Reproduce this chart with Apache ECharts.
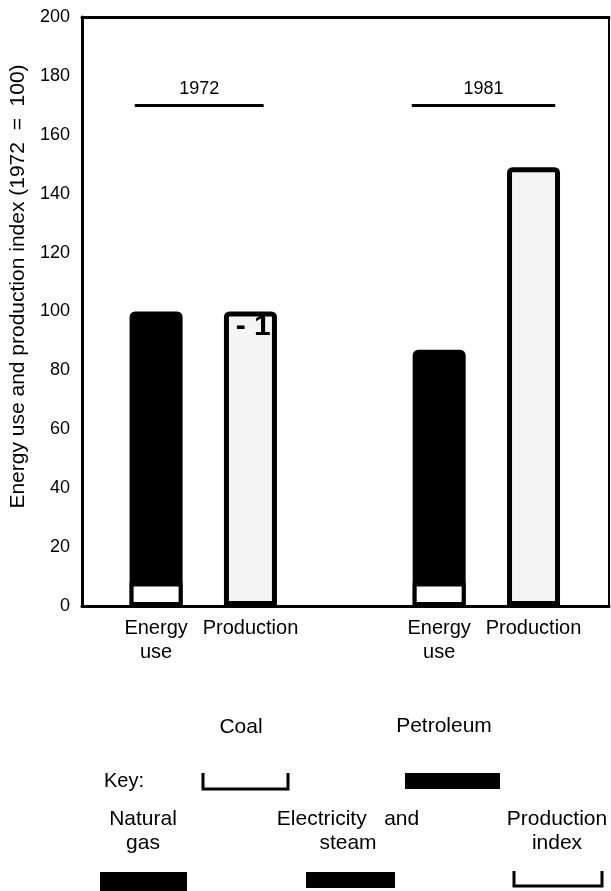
<!DOCTYPE html>
<html>
<head>
<meta charset="utf-8">
<script src="https://cdn.jsdelivr.net/npm/echarts@6/dist/echarts.min.js"></script>
<style>
html, body { margin: 0; padding: 0; background: #fff; }
#chart { width: 611px; height: 891px; }
</style>
</head>
<body>
<div id="chart"></div>
<script>
// bars along the bottom, and the slot each one sits in (slot 2 is the gap between the years)
const barLabels = ['Energy\nuse', 'Production', 'Energy\nuse', 'Production'];
const barSlots = [0, 1, 3, 4];
const years = ['1972', '1981'];
// index values, 1972 = 100
const coal = [8, null, 8, null];
const otherFuels = [92, null, 79, null]; // petroleum, natural gas, electricity and steam (all black)
const production = [null, 100, null, 149];
const yMax = 200;
const yStep = 20;

const font = 'Liberation Sans, Arial, sans-serif';
const toPoints = arr => arr.map((v, i) => [barSlots[i], v == null ? '-' : v]);
// black part is drawn full height and the coal part is laid over its foot
const energyTotal = coal.map((c, i) => (c == null ? null : c + otherFuels[i]));

const chart = echarts.init(document.getElementById('chart'));

// year brackets reach a bit past their two bars
const spanLeft = [0.226, 0.29];
const spanRight = [0.14, 0.23];

const option = {
  animation: false,
  textStyle: { fontFamily: font, color: '#000' },
  grid: { left: 80, right: 2, top: 17, bottom: 285 },
  xAxis: [{
    type: 'value',
    min: -0.786,
    max: 4.8,
    axisLine: { onZero: false, lineStyle: { color: '#000', width: 3 } },
    axisTick: { show: false },
    splitLine: { show: false },
    axisLabel: {
      customValues: barSlots,
      formatter: v => barLabels[barSlots.indexOf(v)],
      fontSize: 20, color: '#000', lineHeight: 24, margin: 10, fontFamily: font
    }
  }, {
    type: 'value',
    position: 'top',
    min: -0.786,
    max: 4.8,
    axisLine: { onZero: false, lineStyle: { color: '#000', width: 3 } },
    axisTick: { show: false },
    axisLabel: { show: false },
    splitLine: { show: false }
  }],
  yAxis: [{
    type: 'value',
    min: 0,
    max: yMax,
    interval: yStep,
    name: 'Energy use and production index (1972  =  100)',
    nameLocation: 'middle',
    nameGap: 48,
    nameTextStyle: { fontSize: 21, color: '#000', fontFamily: font, padding: [0, 0, 0, 50] },
    axisLine: { show: true, onZero: false, lineStyle: { color: '#000', width: 3 } },
    axisTick: { show: false },
    splitLine: { show: false },
    axisLabel: { fontSize: 18, color: '#000', margin: 12, fontFamily: font }
  }, {
    type: 'value',
    position: 'right',
    min: 0,
    max: yMax,
    axisLine: { show: true, onZero: false, lineStyle: { color: '#000', width: 2 } },
    axisTick: { show: false },
    axisLabel: { show: false },
    splitLine: { show: false }
  }],
  series: [{
    name: 'Petroleum, natural gas, electricity and steam',
    type: 'bar',
    barWidth: 53,
    barGap: '-100%',
    data: toPoints(energyTotal),
    itemStyle: { color: '#000', borderColor: '#000', borderWidth: 5, borderRadius: [3, 3, 0, 0] }
  }, {
    name: 'Coal',
    type: 'bar',
    barWidth: 53,
    barGap: '-100%',
    data: toPoints(coal),
    itemStyle: { color: '#fff', borderColor: '#000', borderWidth: 4 }
  }, {
    name: 'Production index',
    type: 'bar',
    barWidth: 53,
    barGap: '-100%',
    data: toPoints(production),
    itemStyle: { color: '#f4f4f4', borderColor: '#000', borderWidth: 5, borderRadius: [3, 3, 0, 0] },
    markLine: {
      silent: true,
      symbol: ['none', 'none'],
      lineStyle: { color: '#000', width: 3, type: 'solid' },
      label: { show: true, position: 'middle', formatter: '{b}', fontSize: 18, color: '#000', distance: 7, fontFamily: font },
      data: years.map((y, i) => [
        { name: y, coord: [barSlots[2 * i] - spanLeft[i], 170] },
        { coord: [barSlots[2 * i + 1] + spanRight[i], 170] }
      ])
    },
    markPoint: {
      silent: true,
      symbol: 'circle',
      symbolSize: 1,
      itemStyle: { color: 'transparent' },
      label: { show: true, position: 'inside', formatter: '- 1', fontSize: 30, fontWeight: 'bold', color: '#000', fontFamily: font },
      data: [{ coord: [1.03, 94.7] }]
    }
  }],
  // the key below the chart
  graphic: [
    { type: 'text', style: { x: 241, y: 727, text: 'Coal', align: 'center', verticalAlign: 'middle', font: '21px ' + font, fill: '#000' } },
    { type: 'text', style: { x: 444, y: 726, text: 'Petroleum', align: 'center', verticalAlign: 'middle', font: '21px ' + font, fill: '#000' } },
    { type: 'text', style: { x: 104, y: 781, text: 'Key:', align: 'left', verticalAlign: 'middle', font: '20px ' + font, fill: '#000' } },
    { type: 'polyline', shape: { points: [[203, 773], [203, 789], [288, 789], [288, 773]] }, style: { stroke: '#000', lineWidth: 3, fill: null } },
    { type: 'rect', shape: { x: 405, y: 773, width: 95, height: 16 }, style: { fill: '#000' } },
    { type: 'text', style: { x: 143, y: 831, text: 'Natural\ngas', align: 'center', verticalAlign: 'middle', font: '21px ' + font, lineHeight: 24, fill: '#000' } },
    { type: 'text', style: { x: 348, y: 831, text: 'Electricity   and\nsteam', align: 'center', verticalAlign: 'middle', font: '21px ' + font, lineHeight: 24, fill: '#000' } },
    { type: 'text', style: { x: 557, y: 831, text: 'Production\nindex', align: 'center', verticalAlign: 'middle', font: '21px ' + font, lineHeight: 24, fill: '#000' } },
    { type: 'rect', shape: { x: 100, y: 872, width: 87, height: 19 }, style: { fill: '#000' } },
    { type: 'rect', shape: { x: 306, y: 872, width: 89, height: 16 }, style: { fill: '#000' } },
    { type: 'polyline', shape: { points: [[514, 871], [514, 886], [602, 886], [602, 871]] }, style: { stroke: '#000', lineWidth: 3, fill: null } }
  ]
};

chart.setOption(option);
</script>
</body>
</html>
